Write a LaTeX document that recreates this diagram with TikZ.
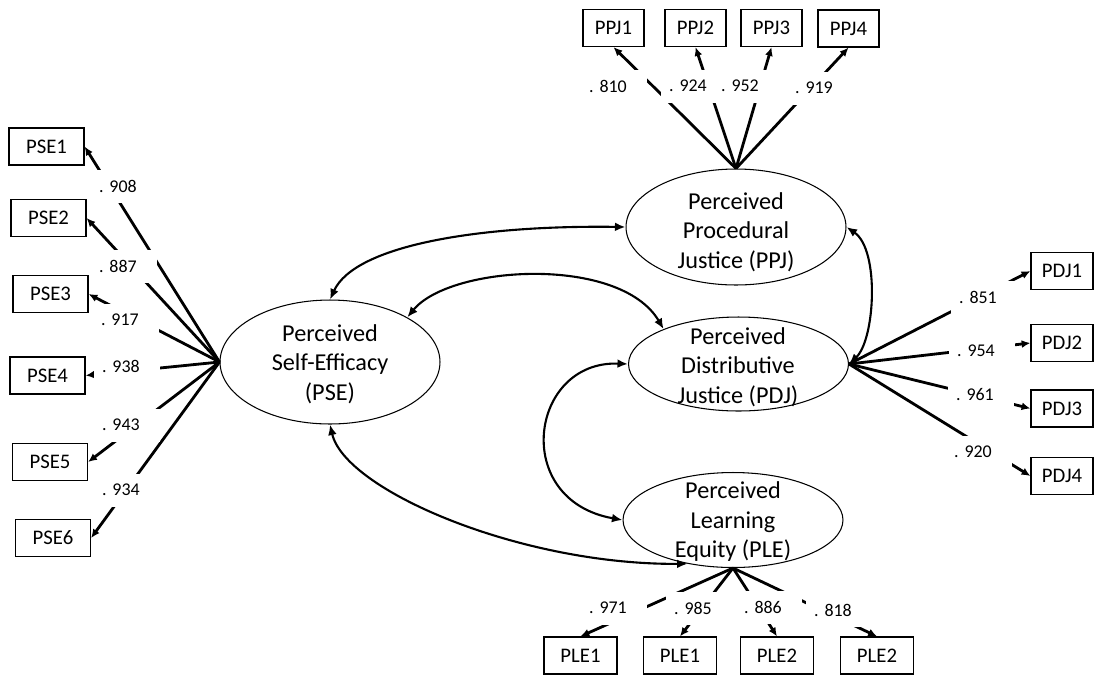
\documentclass[tikz,border=0pt]{standalone}
\usepackage{fontspec}
\setmainfont{Carlito}
\usetikzlibrary{shapes.geometric,arrows.meta}

\begin{document}
\begin{tikzpicture}[x=0.02cm,y=-0.02cm,
  lat/.style={draw,line width=.6pt,ellipse,inner sep=0,minimum width=4.4cm},
  ltxt/.style={align=center,font=\fontsize{13.8}{16.8}\selectfont},
  ind/.style={draw,line width=.7pt,minimum width=#1,minimum height=.74cm,font=\fontsize{11.8}{14}\selectfont},
  coef/.style={fill=white,text width=1cm,inner xsep=.16cm,inner ysep=0,minimum height=.66cm,align=left,font=\fontsize{10.2}{12}\selectfont},
  load/.style={line width=1.6pt,-{Latex[length=5pt,width=4.5pt]}},
  cov/.style={line width=1.2pt,{Latex[length=6pt,width=5pt]}-{Latex[length=6pt,width=5pt]}}]
\useasboundingbox (0,0) rectangle (1094,677);
% latent variables
\node[lat,minimum height=2.48cm] (pse) at (330,362) {}; \node[ltxt] (tpse) at (330,364) {Perceived\\Self-Efficacy\\(PSE)};
\node[lat,minimum height=2.32cm] (ppj) at (736,227) {}; \node[ltxt] (tppj) at (736,232) {Perceived\\Procedural\\Justice (PPJ)};
\node[lat,minimum height=1.88cm] (pdj) at (738.5,364) {}; \node[ltxt] (tpdj) at (738,367) {Perceived\\Distributive\\Justice (PDJ)};
\node[lat,minimum height=1.9cm] (ple) at (733,520) {}; \node[ltxt] (tple) at (733,522) {Perceived\\Learning\\Equity (PLE)};
% indicators
\node[ind=1.5cm] (pse1) at (46.5,146.5) {PSE1}; \node[ind=1.5cm] (pse2) at (48.5,218) {PSE2};
\node[ind=1.5cm] (pse3) at (50.5,294) {PSE3}; \node[ind=1.5cm] (pse4) at (47.5,375.5) {PSE4};
\node[ind=1.5cm] (pse5) at (50,462) {PSE5}; \node[ind=1.5cm] (pse6) at (53,538) {PSE6};
\node[ind=1.22cm] (ppj1) at (613.5,28) {PPJ1}; \node[ind=1.22cm] (ppj2) at (695.5,28) {PPJ2};
\node[ind=1.22cm] (ppj3) at (771.5,28) {PPJ3}; \node[ind=1.22cm] (ppj4) at (848.5,28.5) {PPJ4};
\node[ind=1.24cm] (pdj1) at (1062,271) {PDJ1}; \node[ind=1.24cm] (pdj2) at (1062,343) {PDJ2};
\node[ind=1.24cm] (pdj3) at (1062,408.5) {PDJ3}; \node[ind=1.24cm] (pdj4) at (1062,476) {PDJ4};
\node[ind=1.46cm] (ple1) at (580.5,655.5) {PLE1}; \node[ind=1.46cm] (ple2) at (680,655.5) {PLE1};
\node[ind=1.46cm] (ple3) at (777,655.5) {PLE2}; \node[ind=1.46cm] (ple4) at (877,655.5) {PLE2};
% loadings
\draw[load] (pse.west) -- (pse1.east); \draw[load] (pse.west) -- (pse2.east); \draw[load] (pse.west) -- (pse3.east);
\draw[load] (pse.west) -- (pse4.east); \draw[load] (pse.west) -- (pse5.east); \draw[load] (pse.west) -- (pse6.east);
\draw[load] (ppj.north) -- (ppj1.south); \draw[load] (ppj.north) -- (ppj2.south);
\draw[load] (ppj.north) -- (ppj3.south); \draw[load] (ppj.north) -- (ppj4.south);
\draw[load] (pdj.east) -- (pdj1.west); \draw[load] (pdj.east) -- (pdj2.west);
\draw[load] (pdj.east) -- (pdj3.west); \draw[load] (pdj.east) -- (pdj4.west);
\draw[load] (ple.south) -- (ple1.north); \draw[load] (ple.south) -- (ple2.north);
\draw[load] (ple.south) -- (ple3.north); \draw[load] (ple.south) -- (ple4.north);
% covariances
\draw[cov] (pse.north) .. controls (355,245) and (480,225) .. (ppj.west);
\draw[cov] (pse.30) .. controls (450,265) and (620,255) .. (pdj.155);
\draw[cov] (pdj.west) .. controls (530,360) and (510,500) .. (ple.west);
\draw[cov] (pse.south) .. controls (345,490) and (520,565) .. (ple.224);
\draw[cov] (ppj.east) .. controls (880,250) and (875,340) .. (pdj.east);
% coefficients
\node[coef] (c1) at (124,186) {.\ 908}; \node[coef] (c2) at (124,266) {.\ 887}; \node[coef] (c3) at (126,320) {.\ 917};
\node[coef] (c4) at (127,366) {.\ 938}; \node[coef] (c5) at (127,425) {.\ 943}; \node[coef] (c6) at (127,490) {.\ 934};
\node[coef] (c7) at (614,86) {.\ 810}; \node[coef] (c8) at (694,86) {.\ 924}; \node[coef] (c9) at (746,86) {.\ 952}; \node[coef] (c10) at (820,88) {.\ 919};
\node[coef] (c11) at (984,297) {.\ 851}; \node[coef] (c12) at (982,351) {.\ 954}; \node[coef] (c13) at (981,395) {.\ 961}; \node[coef] (c14) at (979,452) {.\ 920};
\node[coef] (c15) at (614,608) {.\ 971}; \node[coef] (c16) at (699,608) {.\ 985}; \node[coef] (c17) at (769,607) {.\ 886}; \node[coef] (c18) at (839,610) {.\ 818};
\end{tikzpicture}
\end{document}
